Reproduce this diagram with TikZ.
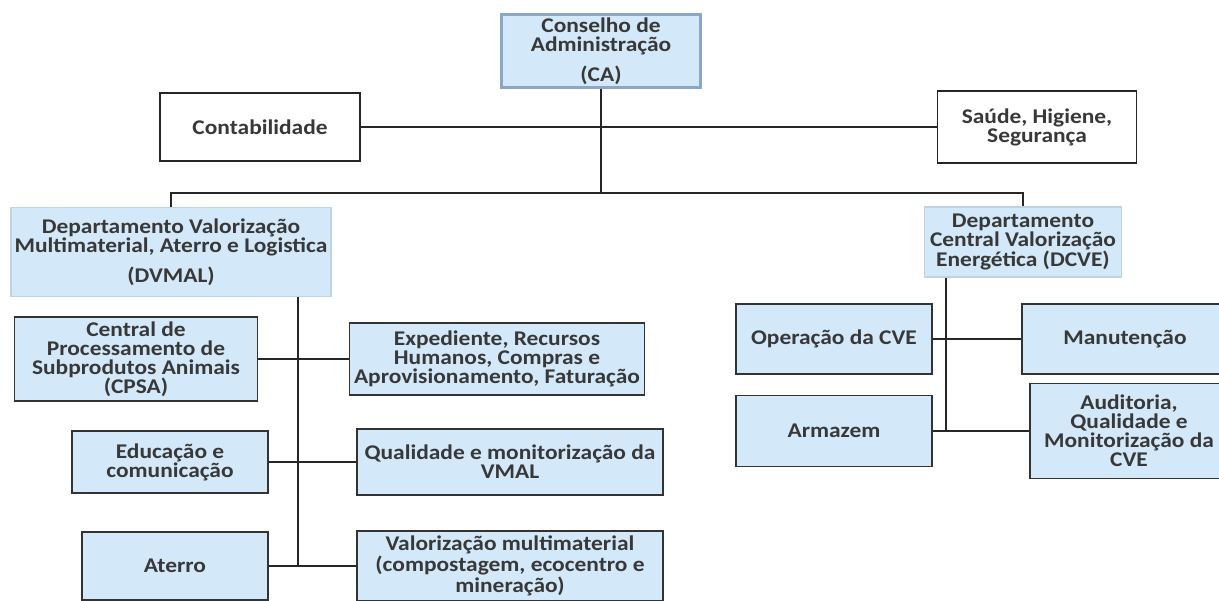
\documentclass[tikz,border=0pt]{standalone}
\usepackage{fontspec}
\setmainfont{Carlito}[FakeStretch=1.12]
\definecolor{boxblue}{HTML}{D3E8F8}
\definecolor{caline}{HTML}{8AA6C8}
\definecolor{txtgray}{HTML}{383838}

\begin{document}
\begin{tikzpicture}[x = 0.02cm, y = -0.02cm,
  every node/.style = {font = \bfseries\fontsize{11.9}{10.8}\selectfont, text = txtgray, align = center, inner sep = 1pt},
  box/.style = {draw = black!80, line width = 1pt, fill = boxblue},
  whitebox/.style = {draw = black!85, line width = 1pt, fill = white},
  deptbox/.style = {draw = boxblue!80!gray, line width = 0.8pt, fill = boxblue},
  link/.style = {line width = 1.1pt, draw = black!85}]

\useasboundingbox (0,0) rectangle (1219,601);

% top
\node [box, draw = caline, line width = 1.6pt, minimum width = 3.98cm, minimum height = 1.46cm] (ca) at (601,51) {Conselho de\\Administração\\[5pt](CA)};
\node [whitebox, minimum width = 4cm, minimum height = 1.36cm] (cont) at (260,127) {Contabilidade};
\node [whitebox, minimum width = 3.98cm, minimum height = 1.44cm] (shs) at (1037,127) {Saúde, Higiene,\\Segurança};

% departments
\node [deptbox, minimum width = 6.4cm, minimum height = 1.78cm] (dvmal) at (171,252) {Departamento Valorização\\Multimaterial, Aterro e Logistica\\[5pt](DVMAL)};
\node [deptbox, minimum width = 3.94cm, minimum height = 1.4cm] (dcve) at (1023,242) {Departamento\\Central Valorização\\Energética (DCVE)};

% DVMAL units
\node [box, minimum width = 4.86cm, minimum height = 1.68cm] (cpsa) at (136,359) {Central de\\Processamento de\\Subprodutos Animais\\(CPSA)};
\node [box, minimum width = 5.9cm, minimum height = 1.44cm] (exp) at (497,359) {Expediente, Recursos\\Humanos, Compras e\\Aprovisionamento, Faturação};
\node [box, minimum width = 3.92cm, minimum height = 1.24cm] (educ) at (170,462) {Educação e\\comunicação};
\node [box, minimum width = 6.12cm, minimum height = 1.32cm] (qual) at (510,462) {Qualidade e monitorização da\\VMAL};
\node [box, minimum width = 3.72cm, minimum height = 1.36cm] (ater) at (175,566) {Aterro};
\node [box, minimum width = 6.12cm, minimum height = 1.4cm] (valor) at (510,566) {Valorização multimaterial\\(compostagem, ecocentro e\\mineração)};

% DCVE units
\node [box, minimum width = 3.92cm, minimum height = 1.4cm] (oper) at (834,339) {Operação da CVE};
\node [box, minimum width = 4.12cm, minimum height = 1.4cm] (manu) at (1125,339) {Manutenção};
\node [box, minimum width = 3.92cm, minimum height = 1.42cm] (arm) at (834,431) {Armazem};
\node [box, minimum width = 3.96cm, minimum height = 1.9cm] (aud) at (1129,431) {Auditoria,\\Qualidade e\\Monitorização da\\CVE};

\coordinate (j1) at (601,193);
\coordinate (t1) at (298,566);
\coordinate (t2) at (946,431);

\draw [link] (cont) -- (shs);
\draw [link] (ca) -- (j1);
\draw [link] (dvmal.north) |- (j1) -| (dcve.north);
\draw [link] (dvmal.south -| t1) -- (t1);
\draw [link] (cpsa) -- (exp);
\draw [link] (educ) -- (qual);
\draw [link] (ater) -- (valor);
\draw [link] (dcve.south -| t2) -- (t2);
\draw [link] (oper) -- (manu);
\draw [link] (arm) -- (aud);
\end{tikzpicture}
\end{document}
